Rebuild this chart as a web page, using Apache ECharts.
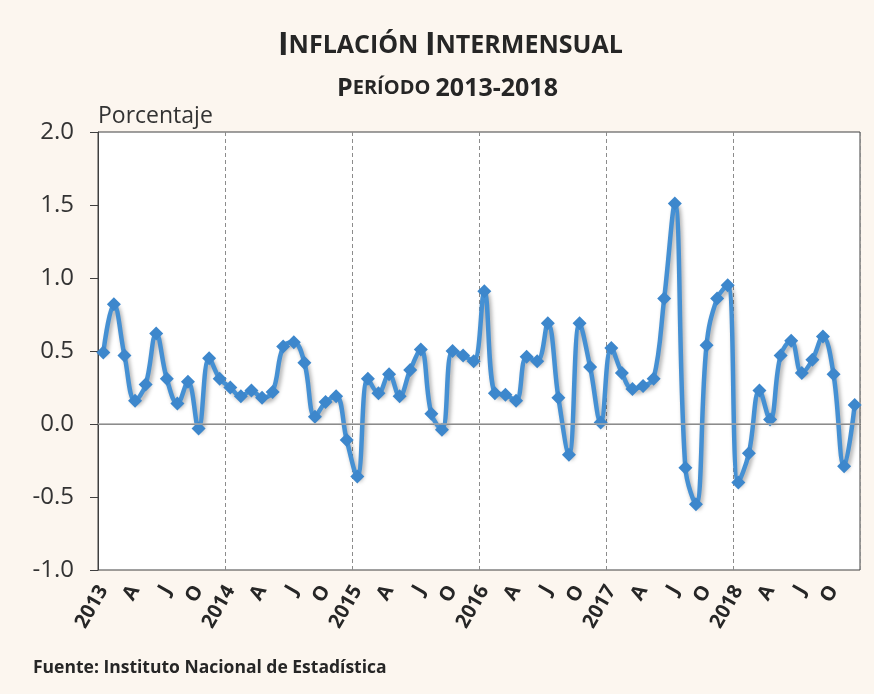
<!DOCTYPE html>
<html>
<head>
<meta charset="utf-8">
<script src="https://cdn.jsdelivr.net/npm/echarts@6/dist/echarts.min.js"></script>
<style>
  html, body { margin: 0; padding: 0; background: #fcf6ef; }
  #chart { width: 874px; height: 694px; }
</style>
</head>
<body>
<div id="chart"></div>
<script>
// variación mensual del IPC, enero 2013 - diciembre 2018
const years = ['2013', '2014', '2015', '2016', '2017', '2018'];
const monthLabels = ['', '', '', 'A', '', '', 'J', '', '', 'O', '', ''];
const inflacion = [
    0.49, 0.82, 0.47, 0.16, 0.27, 0.62, 0.31, 0.14, 0.29, -0.03, 0.45, 0.31,
    0.25, 0.19, 0.23, 0.18, 0.22, 0.53, 0.56, 0.42, 0.05, 0.15, 0.19, -0.11,
    -0.36, 0.31, 0.21, 0.34, 0.19, 0.37, 0.51, 0.07, -0.04, 0.50, 0.47, 0.43,
    0.91, 0.21, 0.20, 0.16, 0.46, 0.43, 0.69, 0.18, -0.21, 0.69, 0.39, 0.01,
    0.52, 0.35, 0.24, 0.26, 0.31, 0.86, 1.51, -0.30, -0.55, 0.54, 0.86, 0.95,
    -0.40, -0.20, 0.23, 0.03, 0.47, 0.57, 0.35, 0.44, 0.60, 0.34, -0.29, 0.13
];

// una categoría por mes: el año en enero, A / J / O cada trimestre
const months = [];
years.forEach(function (y) {
    monthLabels.forEach(function (m, i) {
        months.push(i === 0 ? y : m);
    });
});

const chart = echarts.init(document.getElementById('chart'));

const option = {
    backgroundColor: '#fcf6ef',
    title: [
        {
            text: '{b|I}{s|NFLACIÓN }{b|I}{s|NTERMENSUAL}',
            left: 278,
            top: 30,
            padding: 0,
            textStyle: {
                rich: {
                    b: { fontSize: 32, fontWeight: 'bold', color: '#262626', fontFamily: 'Open Sans' },
                    s: { fontSize: 25, fontWeight: 'bold', color: '#262626', fontFamily: 'Open Sans' }
                }
            }
        },
        {
            text: '{b|P}{s|ERÍODO }{b|2013-2018}',
            left: 337,
            top: 76,
            padding: 0,
            textStyle: {
                rich: {
                    b: { fontSize: 25, fontWeight: 'bold', color: '#262626', fontFamily: 'Open Sans' },
                    s: { fontSize: 20, fontWeight: 'bold', color: '#262626', fontFamily: 'Open Sans' }
                }
            }
        },
        {
            text: 'Fuente: Instituto Nacional de Estadística',
            left: 33,
            top: 659,
            padding: 0,
            textStyle: { fontSize: 17.5, fontWeight: 'bold', color: '#262626', fontFamily: 'Open Sans' }
        }
    ],
    grid: {
        left: 98,
        right: 14,
        top: 132,
        bottom: 124,
        show: true,
        backgroundColor: '#ffffff',
        borderColor: '#404040',
        borderWidth: 1
    },
    xAxis: {
        type: 'category',
        data: months,
        boundaryGap: true,
        axisLine: { show: true, lineStyle: { color: '#404040' } },
        axisTick: { show: false },
        splitLine: {
            show: true,
            interval: function (i) { return i % 12 === 0 && i > 0; },
            lineStyle: { color: '#8c8c8c', type: [4, 3], width: 1 }
        },
        axisLabel: {
            interval: 0,
            rotate: 60,
            fontSize: 20,
            fontWeight: 'bold',
            color: '#262626',
            fontFamily: 'Open Sans',
            margin: 17
        }
    },
    yAxis: {
        type: 'value',
        min: -1,
        max: 2,
        interval: 0.5,
        name: 'Porcentaje',
        nameLocation: 'end',
        nameGap: 4,
        nameTextStyle: { align: 'left', fontSize: 23, color: '#333333', fontFamily: 'Open Sans' },
        axisLine: { show: true, lineStyle: { color: '#404040' } },
        axisTick: { show: true, length: 8, lineStyle: { color: '#404040' } },
        splitLine: { show: false },
        axisLabel: {
            fontSize: 24,
            color: '#333333',
            fontFamily: 'Open Sans',
            margin: 24,
            formatter: function (v) { return v.toFixed(1); }
        }
    },
    series: [
        {
            type: 'line',
            data: inflacion,
            smooth: 0.4,
            symbol: 'diamond',
            symbolSize: 14,
            itemStyle: { color: '#3d87cc' },
            lineStyle: {
                color: '#4590d3',
                width: 4.5,
                shadowColor: 'rgba(0,0,0,0.35)',
                shadowBlur: 4,
                shadowOffsetX: 2,
                shadowOffsetY: 3
            },
            markLine: {
                silent: true,
                symbol: 'none',
                label: { show: false },
                lineStyle: { color: '#a6a6a6', type: 'solid', width: 1.5 },
                data: [{ yAxis: 0 }]
            },
            z: 3
        }
    ]
};

chart.setOption(option);
</script>
</body>
</html>
